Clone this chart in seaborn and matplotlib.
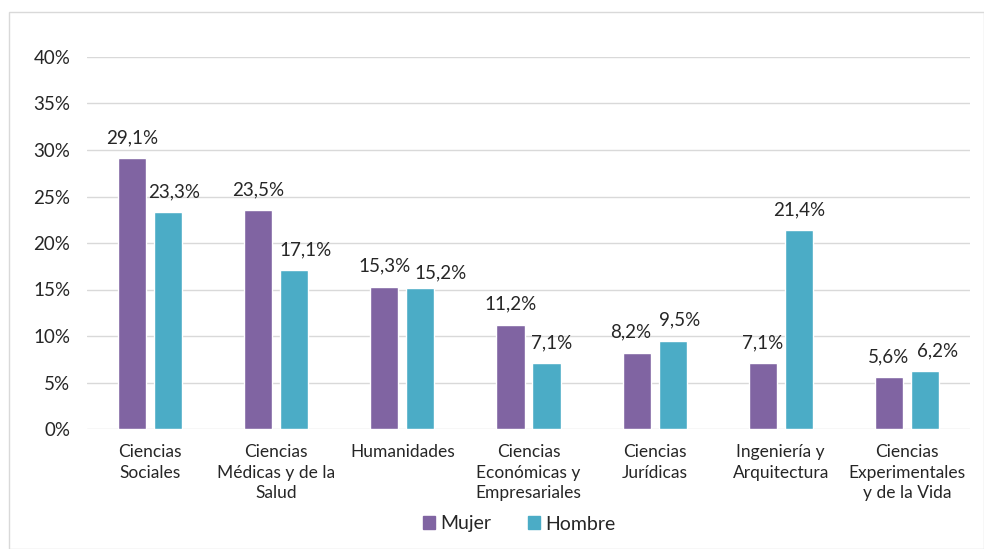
import pandas as pd
import matplotlib.pyplot as plt
import seaborn as sns
from matplotlib.patches import Rectangle

# Data
categorias = ["Ciencias\nSociales", "Ciencias\nMédicas y de la\nSalud", "Humanidades",
              "Ciencias\nEconómicas y\nEmpresariales", "Ciencias\nJurídicas",
              "Ingeniería y\nArquitectura", "Ciencias\nExperimentales\ny de la Vida"]
mujer = [29.1, 23.5, 15.3, 11.2, 8.2, 7.1, 5.6]
hombre = [23.3, 17.1, 15.2, 7.1, 9.5, 21.4, 6.2]
sexos = ["Mujer", "Hombre"]
colores = ["#8064A2", "#4BACC6"]

df = pd.DataFrame({
    "area": categorias * 2,
    "valor": [v / 100 for v in mujer + hombre],
    "sexo": [sexos[0]] * len(mujer) + [sexos[1]] * len(hombre),
})

sns.set_style("white")
plt.rcParams["font.family"] = ["Lato", "DejaVu Sans"]

fig = plt.figure(figsize=(9.84, 5.49), dpi=100)
ax = fig.add_axes([87 / 984, 120 / 549, 883 / 984, 372 / 549])

sns.barplot(data=df, x="area", y="valor", hue="sexo", palette=colores,
            width=0.571, gap=0.22, ax=ax, legend=False, saturation=1)

# label nudges (px) like Excel places them to avoid collisions
dx = [[0, 0, 0, 0, -6, 0, 0], [6, 11, 20, 5, 7, 0, 13]]
dy = [[15, 15, 15, 15, 15, 15, 15], [15, 15, 9, 15, 15, 15, 15]]
for k, cont in enumerate(ax.containers):
    for i, bar in enumerate(cont):
        v = cont.datavalues[i]
        ax.annotate(f"{v * 100:.1f}%".replace(".", ","),
                    xy=(bar.get_x() + bar.get_width() / 2, bar.get_height()),
                    xytext=(dx[k][i] * 0.72, dy[k][i] * 0.72), textcoords="offset points",
                    ha="center", va="baseline", fontsize=13.5, color="#262626")

ax.set_ylim(0, 0.40)
ax.set_yticks([i * 0.05 for i in range(9)])
ax.set_yticklabels([f"{i * 5}%" for i in range(9)], fontsize=13.5, color="#262626")
ax.tick_params(axis="x", labelsize=12.5, colors="#262626", length=0, pad=11)
ax.tick_params(axis="y", length=0, pad=12)
for t in ax.get_xticklabels():
    t.set_linespacing(1.35)
ax.set_xlabel("")
ax.set_ylabel("")
ax.grid(axis="y", color="#D9D9D9", linewidth=1)
ax.set_axisbelow(True)
for s in ax.spines.values():
    s.set_visible(False)

# legend
handles = [Rectangle((0, 0), 1, 1, color=c) for c in colores]
fig.legend(handles, sexos, loc="center", bbox_to_anchor=(519 / 984, 1 - 524 / 549),
           ncol=2, frameon=False, fontsize=14, handlelength=0.62, handleheight=0.62,
           handletextpad=0.25, columnspacing=1.9, borderpad=0)

# outer chart frame
fig.patches.append(Rectangle((9 / 984, 0), 975 / 984, 537 / 549, transform=fig.transFigure,
                             fill=False, edgecolor="#D9D9D9", linewidth=1))

fig.savefig("out.png", dpi=100)
